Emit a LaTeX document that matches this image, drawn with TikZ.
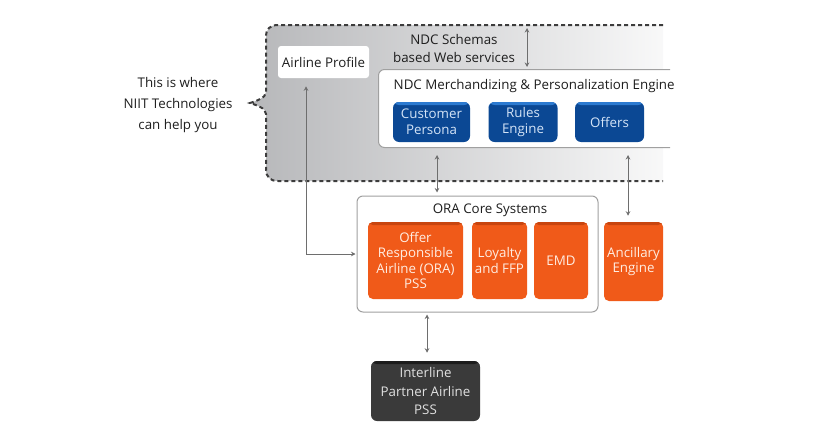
\documentclass[tikz,border=0pt]{standalone}
\usepackage{fontspec}
\setmainfont{Open Sans}
\usetikzlibrary{arrows.meta, positioning}
\definecolor{textdark}{HTML}{1E1E1E}
\definecolor{ndcblue}{HTML}{0B4894}
\definecolor{ndctop}{HTML}{2C7AD0}
\definecolor{ndctext}{HTML}{D4E4F7}
\definecolor{oraorange}{HTML}{F05A19}
\definecolor{oratop}{HTML}{C8450F}
\definecolor{oratext}{HTML}{FFEDE2}
\definecolor{partnergray}{HTML}{3A3A3A}
\definecolor{partnertop}{HTML}{1C1C1C}
\definecolor{linkgray}{HTML}{6E6E6E}
\definecolor{framegray}{HTML}{A9AAAD}
\definecolor{dashgray}{HTML}{3C3C3C}
\definecolor{panelline}{HTML}{A0A0A0}
\pgfdeclarehorizontalshading{regionfade}{100bp}{color(0bp)=(framegray); color(20bp)=(framegray!92!white); color(80bp)=(white); color(100bp)=(white)}
\newcommand{\px}{0.75pt}
\tikzstyle{panel} = [rectangle, draw=panelline, fill=white, line width=1*\px, rounded corners=6*\px]
\tikzstyle{plain} = [rectangle, fill=white, rounded corners=3*\px, text=textdark]
\tikzstyle{module} = [rectangle, fill=ndcblue, text=ndctext, align=center, rounded corners=6*\px, minimum height=40*\px, inner sep=0pt, font=\fontsize{10}{12}\selectfont,
  path picture={\fill[ndctop] (path picture bounding box.north west) rectangle ([yshift=-3*\px]path picture bounding box.north east);}]
\tikzstyle{core} = [rectangle, fill=oraorange, text=oratext, align=center, rounded corners=5*\px, inner sep=0pt, font=\fontsize{10}{11.5}\selectfont,
  path picture={\fill[oratop] (path picture bounding box.north west) rectangle ([yshift=-3*\px]path picture bounding box.north east);}]
\tikzstyle{partner} = [rectangle, fill=partnergray, text=white!88!black, align=center, rounded corners=6*\px, inner sep=0pt, font=\fontsize{10}{14}\selectfont,
  path picture={\fill[partnertop] (path picture bounding box.north west) rectangle ([yshift=-3*\px]path picture bounding box.north east);}]
\tikzstyle{link} = [linkgray, line width=1*\px, {Stealth[length=4.5*\px,width=4.5*\px]}-{Stealth[length=4.5*\px,width=4.5*\px]}]
\tikzstyle{region} = [dashgray, line width=2*\px, dash pattern=on 4*\px off 3*\px]

\begin{document}
\begin{tikzpicture}[x=0.75pt, y=-0.75pt, font=\fontsize{10}{14}\selectfont, text=textdark]
    \useasboundingbox (0,0) rectangle (820,439);

    % Where NIIT helps
    \shade [shading=regionfade] (663,25) -- (278,25) .. controls (270,25) and (266,29) .. (266,37) -- (266,92)
        .. controls (266,98) and (256,101) .. (250,103) .. controls (256,105) and (266,108) .. (266,114) -- (266,169)
        .. controls (266,177) and (270,181) .. (278,181) -- (663,181) -- cycle;
    \draw [region] (663,25) -- (278,25) .. controls (270,25) and (266,29) .. (266,37) -- (266,92)
        .. controls (266,98) and (256,101) .. (250,103) .. controls (256,105) and (266,108) .. (266,114) -- (266,169)
        .. controls (266,177) and (270,181) .. (278,181) -- (663,181);
    \node (niit) [align=center, font=\fontsize{10}{16}\selectfont] at (178,105) {This is where\\NIIT Technologies\\can help you};

    % Airline profile and web services
    \node (profile) [plain, minimum width=91*\px, minimum height=32*\px, inner sep=0pt] at (323.5,62) {Airline Profile};
    \node (schemas) [align=center] at (454,48.5) {NDC Schemas\\based Web services};

    % Merchandizing engine
    \begin{scope}
        \clip (0,0) rectangle (670,439);
        \node (merch) [panel, anchor=north west, minimum width=330*\px, minimum height=78*\px] at (378,69) {};
    \end{scope}
    \node (merchtitle) [anchor=west] at (389,86) {NDC Merchandizing \& Personalization Engine};
    \node (persona) [module, minimum width=77*\px] at (431.5,122) {Customer\\Persona};
    \node (rules) [module, minimum width=69*\px, right=18*\px of persona] {Rules\\Engine};
    \node (offers) [module, minimum width=69*\px, right=17*\px of rules] {Offers};

    % ORA core systems
    \node (ora) [panel, minimum width=241*\px, minimum height=116*\px] at (477.5,254) {};
    \node (oratitle) at (490,210) {ORA Core Systems};
    \node (pss) [core, minimum width=95*\px, minimum height=77*\px] at (415.5,260.5) {Offer\\Responsible\\Airline (ORA)\\PSS};
    \node (loyalty) [core, minimum width=55*\px, minimum height=77*\px] at (499.5,260.5) {Loyalty\\and FFP};
    \node (emd) [core, minimum width=54*\px, minimum height=77*\px] at (561,260.5) {EMD};
    \node (ancillary) [core, minimum width=59*\px, minimum height=79*\px] at (633.5,261.5) {Ancillary\\Engine};

    % Interline partner
    \node (interline) [partner, minimum width=109*\px, minimum height=60*\px] at (425.5,391) {Interline\\Partner Airline\\PSS};

    % ==== Arrows
    \coordinate (wstop) at (527,28);
    \coordinate (coreup) at (437,155);
    \coordinate (ancup) at (628,155);
    \draw [link] (wstop) -- (wstop |- merch.north) [shorten >=2*\px];
    \draw [link, shorten <=8*\px, shorten >=1*\px] (profile.south -| 306,0) |- (ora.west);
    \draw [link, shorten >=3*\px] (coreup) -- (coreup |- ora.north);
    \draw [link, shorten >=6*\px] (ancup) -- (ancup |- ancillary.north);
    \draw [link, shorten <=2*\px, shorten >=8*\px] (ora.south -| 427,0) -- (427,0 |- interline.north);

\end{tikzpicture}
\end{document}
